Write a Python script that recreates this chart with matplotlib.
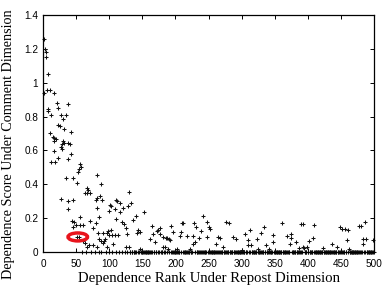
import matplotlib
matplotlib.use("Agg")
import matplotlib.pyplot as plt
from matplotlib.patches import Ellipse

# elevated points: (rank, score)
high_rank = [2, 3, 4, 5, 7, 1, 6, 10, 17, 7, 8, 21, 23, 37, 12, 27, 34, 30,
             23, 25, 10, 32, 42, 15, 17, 19, 16, 30, 32, 28, 37, 41, 27, 28,
             17, 43, 38, 22, 12, 18, 56, 57, 54, 53]
high_score = [1.26, 1.20, 1.185, 1.155, 1.055, 0.937, 0.955, 0.955, 0.937, 0.843, 0.835, 0.878, 0.85, 0.874, 0.81, 0.81, 0.81, 0.786,
              0.75, 0.746, 0.705, 0.725, 0.71, 0.68, 0.675, 0.665, 0.655, 0.655, 0.645, 0.64, 0.645, 0.64, 0.62, 0.61,
              0.597, 0.577, 0.547, 0.553, 0.53, 0.533, 0.52, 0.50, 0.49, 0.475]

mid_rank = [34, 46, 52, 27, 38, 46, 37, 56, 44, 47, 50, 56, 46, 60, 71, 76, 80,
            66, 68, 64, 67, 71, 81, 81, 87, 86, 89, 80, 82, 99, 101, 103,
            110, 112, 116, 108, 116, 121, 129, 133, 130, 153]
mid_score = [0.44, 0.435, 0.41, 0.315, 0.30, 0.305, 0.256, 0.209, 0.183, 0.18, 0.16, 0.16, 0.15, 0.16, 0.183, 0.142, 0.17,
             0.38, 0.365, 0.35, 0.35, 0.35, 0.32, 0.455, 0.40, 0.33, 0.31, 0.31, 0.26, 0.245, 0.28, 0.27,
             0.31, 0.30, 0.29, 0.256, 0.238, 0.262, 0.27, 0.29, 0.352, 0.238]

low_rank = [84, 110, 120, 122, 125, 141, 136, 83, 90, 98, 102, 97, 143, 146, 142,
            164, 172, 174, 166, 169, 162, 100, 104, 108, 113, 127, 94, 92, 90,
            106, 125, 130, 147, 81, 182, 60, 63, 70, 76, 51, 54, 66, 96, 85, 88,
            176, 181, 186]
low_score = [0.205, 0.197, 0.175, 0.167, 0.144, 0.21, 0.19, 0.115, 0.115, 0.125, 0.13, 0.11, 0.13, 0.12, 0.115,
             0.154, 0.125, 0.13, 0.105, 0.057, 0.075, 0.10, 0.10, 0.10, 0.10, 0.105, 0.075, 0.065, 0.055,
             0.045, 0.03, 0.032, 0.018, 0.03, 0.03, 0.065, 0.055, 0.04, 0.04, 0.09, 0.09, 0.03, 0.03, 0.075, 0.065,
             0.14, 0.09, 0.08]

tail_rank = [241, 194, 210, 212, 228, 231, 248, 251, 252, 277, 281, 197, 209, 239,
             177, 187, 190, 192, 207, 217, 226, 229, 227, 236, 247, 265, 267, 261,
             287, 272, 184, 189, 202, 222, 291, 305, 313, 309, 310, 314, 323, 324,
             330, 334, 337, 342, 347, 348, 361, 368, 374, 375, 373, 382, 390, 392,
             387, 393, 300, 409, 408, 402, 399, 394, 423, 437, 444, 449, 452, 456,
             461, 459, 462, 478, 480, 486, 484, 488, 483, 498]
tail_score = [0.213, 0.155, 0.17, 0.172, 0.173, 0.15, 0.18, 0.15, 0.135, 0.18, 0.17, 0.12, 0.12, 0.124,
              0.105, 0.085, 0.078, 0.07, 0.097, 0.097, 0.095, 0.06, 0.047, 0.085, 0.087, 0.09, 0.08, 0.05,
              0.09, 0.03, 0.03, 0.02, 0.02, 0.02, 0.077, 0.105, 0.13, 0.07, 0.041, 0.041, 0.077, 0.02,
              0.114, 0.146, 0.04, 0.015, 0.10, 0.057, 0.17, 0.097, 0.107, 0.083, 0.05, 0.06, 0.164, 0.164,
              0.022, 0.03, 0.012, 0.16, 0.08, 0.067, 0.028, 0.022, 0.022, 0.047, 0.028, 0.15, 0.138, 0.135,
              0.13, 0.07, 0.015, 0.153, 0.153, 0.18, 0.075, 0.077, 0.047, 0.07]

# sparse zero-score points before the dense floor starts
sparse_floor = [59, 65, 72, 78, 84, 88, 95, 99, 104, 110, 115, 120, 124, 127]
DENSE_FLOOR_FROM = 130
N_RANKS = 500

circled_rank = 52.5
circled_score = 0.089

rank = high_rank + mid_rank + low_rank + tail_rank
score = high_score + mid_score + low_score + tail_score
taken = set(rank)
floor_rank = sparse_floor + [r for r in range(DENSE_FLOOR_FROM, N_RANKS + 1) if r not in taken]
floor_score = [0.0] * len(floor_rank)

fig = plt.figure(figsize=(3.9, 2.91), dpi=100)
ax = fig.add_axes([0.1103, 0.134, 0.8487, 0.814])

mk = dict(marker="+", linestyle="none", color="#111111", markersize=3.4,
          markeredgewidth=0.75, clip_on=False)
ax.plot(rank, score, **mk)
ax.plot(floor_rank, floor_score, **mk)

ax.add_patch(Ellipse((circled_rank, circled_score), 29.5, 0.047, fill=False,
                     edgecolor="#e8141c", linewidth=2.5, zorder=5))

ax.set_xlim(0, 500)
ax.set_ylim(0, 1.4)
ax.set_xticks(range(0, 501, 50))
ax.set_yticks([0, 0.2, 0.4, 0.6, 0.8, 1.0, 1.2, 1.4])
ax.set_yticklabels(["0", "0.2", "0.4", "0.6", "0.8", "1", "1.2", "1.4"])
ax.tick_params(direction="in", length=2.6, width=0.7, top=True, right=True,
               labelsize=7.2)
ax.tick_params(axis="x", pad=5)
ax.tick_params(axis="y", pad=3.5)
for lab in ax.get_xticklabels() + ax.get_yticklabels():
    lab.set_family("Liberation Sans")
for sp in ax.spines.values():
    sp.set_linewidth(0.9)

ax.set_xlabel("Dependence Rank Under Repost Dimension", family="Liberation Serif",
              fontsize=10.6, labelpad=2)
ax.set_ylabel("Dependence Score Under Comment Dimension", family="Liberation Serif",
              fontsize=10.2, va="center")
ax.yaxis.set_label_coords(-0.105, 0.455)

fig.savefig("out.png", dpi=100)
